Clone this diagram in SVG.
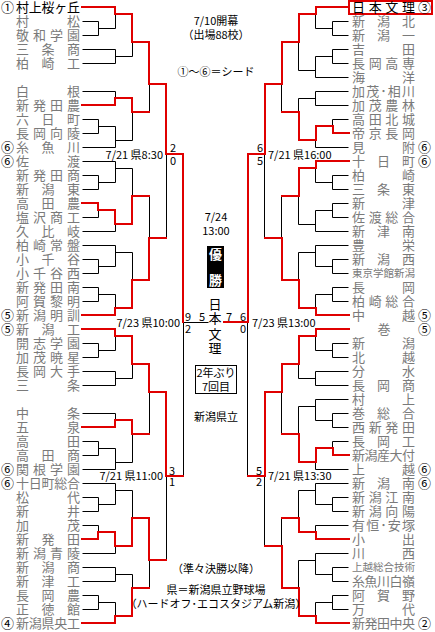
<svg xmlns="http://www.w3.org/2000/svg" width="435" height="632" viewBox="0 0 435 632">
<style>
text{font-family:"Noto Sans CJK JP","Noto Sans CJK SC",sans-serif;}
.nm{font-size:13px;fill:#7a7a7a;}
.bk{font-size:13px;fill:#000;}
.sd{font-size:13px;fill:#000;}
.sm{font-size:10.5px;fill:#7a7a7a;}
.lb{font-size:11px;fill:#000;}
.sc{font-size:11px;fill:#000;text-anchor:middle;}
.c{text-anchor:middle;}
.ln{fill:none;stroke:#000;stroke-width:1;}
.rd{fill:none;stroke:#e00000;stroke-width:2;stroke-linejoin:miter;stroke-linecap:square;}
</style>
<rect width="435" height="632" fill="#fff"/>
<g id="connectors">
<path class="ln" transform="translate(0.5,0.5)" d="M82 21H98 M82 35H98 M98 21V35 M98 28H115 M115 14V28 M82 49H115 M82 63H115 M115 49V63 M115 56H132 M132 42V56 M82 91H115 M115 91V98 M82 119H98 M82 133H98 M98 119V133 M98 126H115 M82 147H115 M115 126V147 M115 140H132 M132 112V140 M149 84V112 M82 161H115 M82 175H98 M82 189H98 M98 175V189 M98 182H115 M115 161V182 M115 168H132 M82 217H98 M98 210V217 M82 231H115 M115 224V231 M132 168V196 M82 245H115 M82 259H98 M82 273H98 M98 259V273 M98 266H115 M115 245V266 M115 252H132 M82 287H98 M82 301H98 M98 287V301 M98 294H115 M115 294V308 M132 252V280 M149 196V238 M166 154V238 M183 322V476 M183 322H208 M82 343H98 M82 357H98 M98 343V357 M98 350H115 M115 336V350 M82 371H115 M82 385H115 M115 371V385 M115 378H132 M132 364V378 M82 413H115 M115 413V420 M82 441H98 M82 455H98 M98 441V455 M98 448H115 M82 469H115 M115 448V469 M115 462H132 M132 434V462 M149 392V434 M82 483H115 M82 497H98 M82 511H98 M98 497V511 M98 504H115 M115 483V504 M115 490H132 M82 525H98 M98 525V532 M82 553H115 M115 546V553 M132 490V518 M82 567H115 M82 581H115 M115 567V581 M115 574H132 M82 595H98 M82 609H98 M98 595V609 M98 602H115 M115 602V616 M132 574V588 M149 560V588 M166 476V560"/>
<path class="ln" transform="translate(-0.5,0.5)" d="M349 21H333 M349 35H333 M333 21V35 M333 28H316 M316 14V28 M349 49H333 M349 63H333 M333 49V63 M333 56H316 M349 77H316 M316 56V77 M316 70H299 M299 42V70 M349 91H316 M349 105H316 M316 91V105 M316 98H299 M349 119H333 M333 119V126 M349 147H316 M316 140V147 M299 98V112 M282 84V112 M349 175H333 M349 189H333 M333 175V189 M333 182H316 M316 168V182 M349 203H333 M349 217H333 M333 203V217 M333 210H316 M349 231H316 M316 210V231 M316 224H299 M299 196V224 M349 245H316 M349 259H333 M349 273H333 M333 259V273 M333 266H316 M316 245V266 M316 252H299 M349 287H333 M349 301H333 M333 287V301 M333 294H316 M316 294V308 M299 252V280 M282 196V238 M265 154V238 M248 322V476 M349 343H333 M349 357H333 M333 343V357 M333 350H316 M316 336V350 M349 371H316 M349 385H316 M316 371V385 M316 378H299 M299 364V378 M349 399H316 M349 413H333 M349 427H333 M333 413V427 M333 420H316 M316 399V420 M316 406H299 M349 441H333 M333 441V448 M349 469H316 M316 462V469 M299 406V434 M282 392V434 M349 483H316 M349 497H333 M349 511H333 M333 497V511 M333 504H316 M316 483V504 M316 490H299 M349 525H316 M316 525V532 M299 490V518 M349 553H316 M349 567H333 M349 581H333 M333 567V581 M333 574H316 M316 553V574 M316 560H299 M349 595H333 M349 609H333 M333 595V609 M333 602H316 M316 602V616 M299 560V588 M282 518V546 M265 476V546"/>
<path class="rd" d="M82 7H115V14H132V42H149V84H166V154H183V322 M82 105H115V98H132V112H149 M82 203H98V210H115V224H132V196H149 M82 315H115V308H132V280H149V238H166 M82 329H115V336H132V364H149V392H166V476H183 M82 427H115V420H132V434H149 M82 539H98V532H115V546H132V518H149V560H166 M82 623H115V616H132V588H149"/>
<path class="rd" d="M349 7H316V14H299V42H282V84H265V154H248V322H224 M349 133H333V126H316V140H299V112H282 M349 161H316V168H299V196H282 M349 315H316V308H299V280H282V238H265 M349 329H316V336H299V364H282V392H265V476H248 M349 455H333V448H316V462H299V434H282 M349 539H316V532H299V518H282 M349 623H316V616H299V588H282V546H265"/>
</g>
<g id="left-teams">
<g id="L00"><text class="sd" x="1" y="11.6">①</text><text class="bk" x="16" y="11.6" textLength="64" lengthAdjust="spacing">村上桜ヶ丘</text></g>
<g id="L01"><text class="nm" x="16" y="25.6" textLength="64" lengthAdjust="spacing">村松</text></g>
<g id="L02"><text class="nm" x="16" y="39.6" textLength="64" lengthAdjust="spacing">敬和学園</text></g>
<g id="L03"><text class="nm" x="16" y="53.6" textLength="64" lengthAdjust="spacing">三条商</text></g>
<g id="L04"><text class="nm" x="16" y="67.6" textLength="64" lengthAdjust="spacing">柏崎工</text></g>
<g id="L06"><text class="nm" x="16" y="95.6" textLength="64" lengthAdjust="spacing">白根</text></g>
<g id="L07"><text class="nm" x="16" y="109.6" textLength="64" lengthAdjust="spacing">新発田農</text></g>
<g id="L08"><text class="nm" x="16" y="123.6" textLength="64" lengthAdjust="spacing">六日町</text></g>
<g id="L09"><text class="nm" x="16" y="137.6" textLength="64" lengthAdjust="spacing">長岡向陵</text></g>
<g id="L10"><text class="sd" x="1" y="151.6">⑥</text><text class="nm" x="16" y="151.6" textLength="64" lengthAdjust="spacing">糸魚川</text></g>
<g id="L11"><text class="sd" x="1" y="165.6">⑥</text><text class="nm" x="16" y="165.6" textLength="64" lengthAdjust="spacing">佐渡</text></g>
<g id="L12"><text class="nm" x="16" y="179.6" textLength="64" lengthAdjust="spacing">新発田商</text></g>
<g id="L13"><text class="nm" x="16" y="193.6" textLength="64" lengthAdjust="spacing">新潟東</text></g>
<g id="L14"><text class="nm" x="16" y="207.6" textLength="64" lengthAdjust="spacing">高田農</text></g>
<g id="L15"><text class="nm" x="16" y="221.6" textLength="64" lengthAdjust="spacing">塩沢商工</text></g>
<g id="L16"><text class="nm" x="16" y="235.6" textLength="64" lengthAdjust="spacing">久比岐</text></g>
<g id="L17"><text class="nm" x="16" y="249.6" textLength="64" lengthAdjust="spacing">柏崎常盤</text></g>
<g id="L18"><text class="nm" x="16" y="263.6" textLength="64" lengthAdjust="spacing">小千谷</text></g>
<g id="L19"><text class="nm" x="16" y="277.6" textLength="64" lengthAdjust="spacing">小千谷西</text></g>
<g id="L20"><text class="nm" x="16" y="291.6" textLength="64" lengthAdjust="spacing">新発田南</text></g>
<g id="L21"><text class="nm" x="16" y="305.6" textLength="64" lengthAdjust="spacing">阿賀黎明</text></g>
<g id="L22"><text class="sd" x="1" y="319.6">⑤</text><text class="nm" x="16" y="319.6" textLength="64" lengthAdjust="spacing">新潟明訓</text></g>
<g id="L23"><text class="sd" x="1" y="333.6">⑤</text><text class="nm" x="16" y="333.6" textLength="64" lengthAdjust="spacing">新潟工</text></g>
<g id="L24"><text class="nm" x="16" y="347.6" textLength="64" lengthAdjust="spacing">開志学園</text></g>
<g id="L25"><text class="nm" x="16" y="361.6" textLength="64" lengthAdjust="spacing">加茂暁星</text></g>
<g id="L26"><text class="nm" x="16" y="375.6" textLength="64" lengthAdjust="spacing">長岡大手</text></g>
<g id="L27"><text class="nm" x="16" y="389.6" textLength="64" lengthAdjust="spacing">三条</text></g>
<g id="L29"><text class="nm" x="16" y="417.6" textLength="64" lengthAdjust="spacing">中条</text></g>
<g id="L30"><text class="nm" x="16" y="431.6" textLength="64" lengthAdjust="spacing">五泉</text></g>
<g id="L31"><text class="nm" x="16" y="445.6" textLength="64" lengthAdjust="spacing">高田</text></g>
<g id="L32"><text class="nm" x="16" y="459.6" textLength="64" lengthAdjust="spacing">高田商</text></g>
<g id="L33"><text class="sd" x="1" y="473.6">⑥</text><text class="nm" x="16" y="473.6" textLength="64" lengthAdjust="spacing">関根学園</text></g>
<g id="L34"><text class="sd" x="1" y="487.6">⑥</text><text class="nm" x="16" y="487.6" textLength="64" lengthAdjust="spacing">十日町総合</text></g>
<g id="L35"><text class="nm" x="16" y="501.6" textLength="64" lengthAdjust="spacing">松代</text></g>
<g id="L36"><text class="nm" x="16" y="515.6" textLength="64" lengthAdjust="spacing">新井</text></g>
<g id="L37"><text class="nm" x="16" y="529.6" textLength="64" lengthAdjust="spacing">加茂</text></g>
<g id="L38"><text class="nm" x="16" y="543.6" textLength="64" lengthAdjust="spacing">新発田</text></g>
<g id="L39"><text class="nm" x="16" y="557.6" textLength="64" lengthAdjust="spacing">新潟青陵</text></g>
<g id="L40"><text class="nm" x="16" y="571.6" textLength="64" lengthAdjust="spacing">新潟商</text></g>
<g id="L41"><text class="nm" x="16" y="585.6" textLength="64" lengthAdjust="spacing">新津工</text></g>
<g id="L42"><text class="nm" x="16" y="599.6" textLength="64" lengthAdjust="spacing">長岡農</text></g>
<g id="L43"><text class="nm" x="16" y="613.6" textLength="64" lengthAdjust="spacing">正徳館</text></g>
<g id="L44"><text class="sd" x="1" y="627.6">④</text><text class="nm" x="16" y="627.6" textLength="64" lengthAdjust="spacing">新潟県央工</text></g>
</g>
<g id="right-teams">
<g id="R00"><rect x="349" y="1" width="83" height="13" fill="none" stroke="#e00000" stroke-width="2"/><text class="bk" x="352" y="11.6" textLength="63" lengthAdjust="spacing">日本文理</text><text class="sd" x="418" y="11.6">③</text></g>
<g id="R01"><text class="nm" x="352" y="25.6" textLength="63" lengthAdjust="spacing">新潟北</text></g>
<g id="R02"><text class="nm" x="352" y="39.6" textLength="63" lengthAdjust="spacing">新潟一</text></g>
<g id="R03"><text class="nm" x="352" y="53.6" textLength="63" lengthAdjust="spacing">吉田</text></g>
<g id="R04"><text class="nm" x="352" y="67.6" textLength="63" lengthAdjust="spacing">長岡高専</text></g>
<g id="R05"><text class="nm" x="352" y="81.6" textLength="63" lengthAdjust="spacing">海洋</text></g>
<g id="R06"><text class="nm" x="352" y="95.6" textLength="63" lengthAdjust="spacing">加茂･相川</text></g>
<g id="R07"><text class="nm" x="352" y="109.6" textLength="63" lengthAdjust="spacing">加茂農林</text></g>
<g id="R08"><text class="nm" x="352" y="123.6" textLength="63" lengthAdjust="spacing">高田北城</text></g>
<g id="R09"><text class="nm" x="352" y="137.6" textLength="63" lengthAdjust="spacing">帝京長岡</text></g>
<g id="R10"><text class="nm" x="352" y="151.6" textLength="63" lengthAdjust="spacing">見附</text><text class="sd" x="418" y="151.6">⑥</text></g>
<g id="R11"><text class="nm" x="352" y="165.6" textLength="63" lengthAdjust="spacing">十日町</text><text class="sd" x="418" y="165.6">⑥</text></g>
<g id="R12"><text class="nm" x="352" y="179.6" textLength="63" lengthAdjust="spacing">柏崎</text></g>
<g id="R13"><text class="nm" x="352" y="193.6" textLength="63" lengthAdjust="spacing">三条東</text></g>
<g id="R14"><text class="nm" x="352" y="207.6" textLength="63" lengthAdjust="spacing">新津</text></g>
<g id="R15"><text class="nm" x="352" y="221.6" textLength="63" lengthAdjust="spacing">佐渡総合</text></g>
<g id="R16"><text class="nm" x="352" y="235.6" textLength="63" lengthAdjust="spacing">新津南</text></g>
<g id="R17"><text class="nm" x="352" y="249.6" textLength="63" lengthAdjust="spacing">豊栄</text></g>
<g id="R18"><text class="nm" x="352" y="263.6" textLength="63" lengthAdjust="spacing">新潟西</text></g>
<g id="R19"><text class="sm" x="352" y="277.2" textLength="63" lengthAdjust="spacing">東京学館新潟</text></g>
<g id="R20"><text class="nm" x="352" y="291.6" textLength="63" lengthAdjust="spacing">長岡</text></g>
<g id="R21"><text class="nm" x="352" y="305.6" textLength="63" lengthAdjust="spacing">柏崎総合</text></g>
<g id="R22"><text class="nm" x="352" y="319.6" textLength="63" lengthAdjust="spacing">中越</text><text class="sd" x="418" y="319.6">⑤</text></g>
<g id="R23"><text class="nm c" x="384" y="333.6">巻</text><text class="sd" x="418" y="333.6">⑤</text></g>
<g id="R24"><text class="nm" x="352" y="347.6" textLength="63" lengthAdjust="spacing">新潟</text></g>
<g id="R25"><text class="nm" x="352" y="361.6" textLength="63" lengthAdjust="spacing">北越</text></g>
<g id="R26"><text class="nm" x="352" y="375.6" textLength="63" lengthAdjust="spacing">分水</text></g>
<g id="R27"><text class="nm" x="352" y="389.6" textLength="63" lengthAdjust="spacing">長岡商</text></g>
<g id="R28"><text class="nm" x="352" y="403.6" textLength="63" lengthAdjust="spacing">村上</text></g>
<g id="R29"><text class="nm" x="352" y="417.6" textLength="63" lengthAdjust="spacing">巻総合</text></g>
<g id="R30"><text class="nm" x="352" y="431.6" textLength="63" lengthAdjust="spacing">西新発田</text></g>
<g id="R31"><text class="nm" x="352" y="445.6" textLength="63" lengthAdjust="spacing">長岡工</text></g>
<g id="R32"><text class="nm" x="352" y="459.6" textLength="63" lengthAdjust="spacing">新潟産大付</text></g>
<g id="R33"><text class="nm" x="352" y="473.6" textLength="63" lengthAdjust="spacing">上越</text><text class="sd" x="418" y="473.6">⑥</text></g>
<g id="R34"><text class="nm" x="352" y="487.6" textLength="63" lengthAdjust="spacing">新潟南</text><text class="sd" x="418" y="487.6">⑥</text></g>
<g id="R35"><text class="nm" x="352" y="501.6" textLength="63" lengthAdjust="spacing">新潟江南</text></g>
<g id="R36"><text class="nm" x="352" y="515.6" textLength="63" lengthAdjust="spacing">新潟向陽</text></g>
<g id="R37"><text class="nm" x="352" y="529.6" textLength="63" lengthAdjust="spacing">有恒･安塚</text></g>
<g id="R38"><text class="nm" x="352" y="543.6" textLength="63" lengthAdjust="spacing">小出</text></g>
<g id="R39"><text class="nm" x="352" y="557.6" textLength="63" lengthAdjust="spacing">川西</text></g>
<g id="R40"><text class="sm" x="352" y="571.3" textLength="63" lengthAdjust="spacing">上越総合技術</text></g>
<g id="R41"><text class="nm" x="352" y="585.6" textLength="63" lengthAdjust="spacing">糸魚川白嶺</text></g>
<g id="R42"><text class="nm" x="352" y="599.6" textLength="63" lengthAdjust="spacing">阿賀野</text></g>
<g id="R43"><text class="nm" x="352" y="613.6" textLength="63" lengthAdjust="spacing">万代</text></g>
<g id="R44"><text class="nm" x="352" y="627.6" textLength="63" lengthAdjust="spacing">新発田中央</text><text class="sd" x="418" y="627.6">②</text></g>
</g>
<g id="center">
<text class="lb c" x="216" y="25">7/10開幕</text>
<text class="lb c" x="216" y="39">（出場88校）</text>
<text class="lb c" x="216" y="76">①～⑥＝シード</text>
<text class="lb" x="163" y="159" text-anchor="end">7/21 県8:30</text>
<text class="lb" x="268" y="159">7/21 県16:00</text>
<text class="lb" x="163" y="480" text-anchor="end">7/21 県11:00</text>
<text class="lb" x="268" y="480">7/21 県13:30</text>
<text class="lb" x="180" y="327" text-anchor="end">7/23 県10:00</text>
<text class="lb" x="252" y="327">7/23 県13:00</text>
<text class="sc" x="173" y="152">2</text><text class="sc" x="173" y="165">0</text>
<text class="sc" x="260" y="152">6</text><text class="sc" x="260" y="165">5</text>
<text class="sc" x="172" y="475">3</text><text class="sc" x="172" y="486">1</text>
<text class="sc" x="259" y="475">5</text><text class="sc" x="259" y="486">2</text>
<text class="sc" x="188" y="321">9</text><text class="sc" x="188" y="333">2</text>
<text class="sc" x="202" y="321">5</text>
<text class="sc" x="229" y="321">7</text>
<text class="sc" x="243" y="321">6</text><text class="sc" x="243" y="333">0</text>
<text class="lb c" x="216" y="221">7/24</text>
<text class="lb c" x="216" y="235">13:00</text>
<rect x="207" y="246" width="17" height="42" fill="#000"/>
<text class="c" x="215.5" y="259" font-size="13" font-weight="bold" fill="#fff">優</text>
<text class="c" x="215.5" y="285" font-size="13" font-weight="bold" fill="#fff">勝</text>
<text class="bk c" x="215" y="309">日</text>
<text class="bk c" x="215" y="323">本</text>
<text class="bk c" x="215" y="339">文</text>
<text class="bk c" x="215" y="353">理</text>
<rect x="195.5" y="365.5" width="41" height="28" fill="none" stroke="#000" stroke-width="1"/>
<text class="lb c" x="216" y="377">2年ぶり</text>
<text class="lb c" x="216" y="391">7回目</text>
<text class="lb c" x="216" y="421">新潟県立</text>
<text class="lb c" x="216" y="573">（準々決勝以降）</text>
<text class="lb c" x="216" y="594">県＝新潟県立野球場</text>
<text class="lb c" x="216" y="608">（ハードオフ･エコスタジアム新潟）</text>
</g>
</svg>
